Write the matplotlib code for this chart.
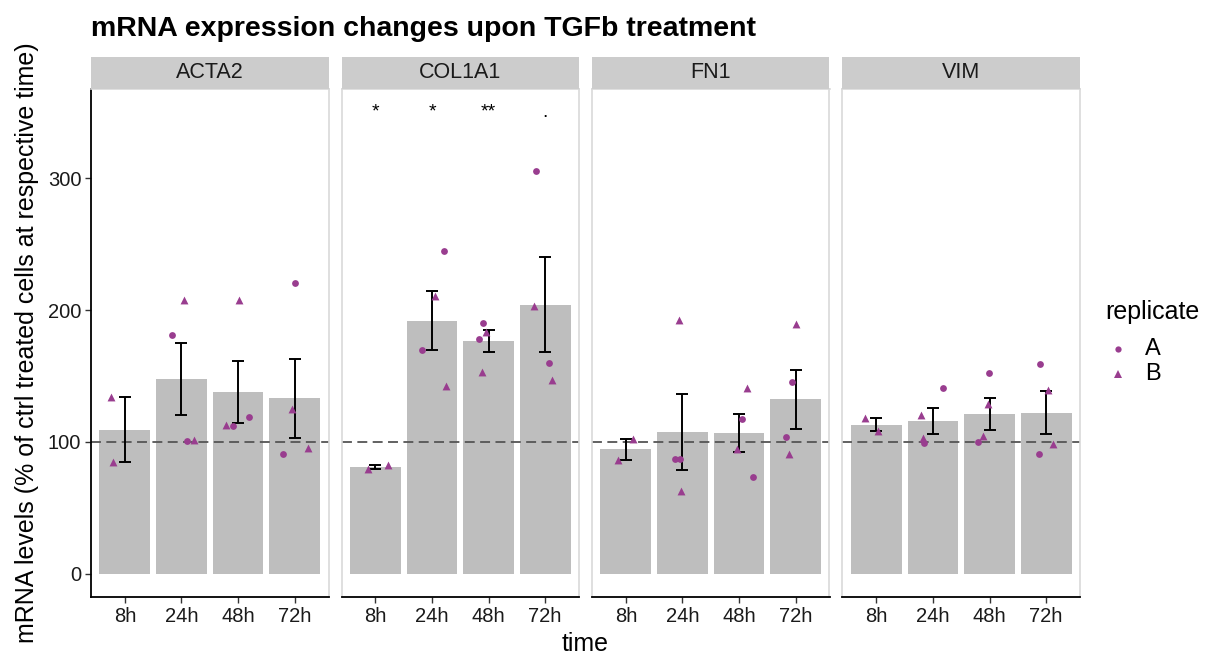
import numpy as np
import matplotlib
matplotlib.use("Agg")
import matplotlib.pyplot as plt
from matplotlib.lines import Line2D
from matplotlib.patches import Rectangle

plt.rcParams["font.family"] = ["Liberation Sans", "DejaVu Sans"]

times = ["8h", "24h", "48h", "72h"]
genes = ["ACTA2", "COL1A1", "FN1", "VIM"]
replicates = ["A", "B"]

# measured values (% of ctrl), one list per time point; 8h only has replicate B
acta2_A = [[], [180.8, 100.8], [112.1, 118.9], [220.7, 91.2]]
acta2_B = [[133.8, 84.6], [207.6, 101.5], [207.6, 112.6], [124.7, 95.2]]
col1a1_A = [[], [244.5, 170.0], [190.4, 178.3], [305.6, 160.1]]
col1a1_B = [[79.5, 82.2], [210.9, 142.4], [183.6, 153.0], [203.3, 147.0]]
fn1_A = [[], [87.4, 87.1], [117.7, 73.5], [145.5, 103.5]]
fn1_B = [[86.4, 102.5], [192.4, 62.9], [140.6, 94.4], [189.6, 91.2]]
vim_A = [[], [141.2, 99.0], [152.0, 100.0], [159.3, 91.2]]
vim_B = [[117.9, 108.3], [120.7, 103.0], [128.8, 104.3], [139.1, 98.5]]

# significance labels for COL1A1
col1a1_sig = ["*", "*", "**", "."]

# horizontal jitter of the points
acta2_jit_A = [[], [-0.16, 0.10], [-0.09, 0.20], [0.00, -0.21]]
acta2_jit_B = [[-0.25, -0.21], [0.04, 0.22], [0.01, -0.22], [-0.05, 0.24]]
col1a1_jit_A = [[], [0.21, -0.17], [-0.09, -0.16], [-0.16, 0.07]]
col1a1_jit_B = [[-0.13, 0.22], [0.05, 0.25], [-0.04, -0.11], [-0.20, 0.13]]
fn1_jit_A = [[], [-0.13, -0.05], [0.05, 0.24], [-0.07, -0.17]]
fn1_jit_B = [[-0.14, 0.12], [-0.07, -0.03], [0.14, -0.03], [0.00, -0.11]]
vim_jit_A = [[], [0.18, -0.16], [-0.01, -0.20], [-0.10, -0.13]]
vim_jit_B = [[-0.21, 0.02], [-0.22, -0.17], [-0.03, -0.12], [0.04, 0.12]]

values = {
    "ACTA2": (acta2_A, acta2_B, acta2_jit_A, acta2_jit_B),
    "COL1A1": (col1a1_A, col1a1_B, col1a1_jit_A, col1a1_jit_B),
    "FN1": (fn1_A, fn1_B, fn1_jit_A, fn1_jit_B),
    "VIM": (vim_A, vim_B, vim_jit_A, vim_jit_B),
}

W, H = 1207, 655
fig = plt.figure(figsize=(W / 100, H / 100), dpi=100)

point_col = "#993D8F"
bar_col = "#BEBEBE"
strip_col = "#CCCCCC"
border_col = "#D9D9D9"
text_col = "#1A1A1A"

ax_left, ax_w, ax_gap = 91, 237.5, 13
ax_bottom, ax_top = 597, 89
strip_h = 32

x = np.arange(1, len(times) + 1)

for i, gene in enumerate(genes):
    left = ax_left + i * (ax_w + ax_gap)
    ax = fig.add_axes([left / W, 1 - ax_bottom / H, ax_w / W, (ax_bottom - ax_top) / H])
    a_vals, b_vals, a_jit, b_jit = values[gene]

    # bar = mean, error bar = standard error over all replicates
    means, ses = [], []
    for t in range(len(times)):
        v = np.array(a_vals[t] + b_vals[t])
        means.append(v.mean())
        ses.append(v.std(ddof=1) / np.sqrt(len(v)))

    ax.bar(x, means, width=0.9, color=bar_col, zorder=1)
    ax.axhline(100, color="#555555", lw=1.3, ls=(0, (5.5, 3)), zorder=2)
    ax.errorbar(x, means, yerr=ses, fmt="none", ecolor="black", elinewidth=1.4,
                capsize=4, capthick=1.4, zorder=3)

    for t in range(len(times)):
        if a_vals[t]:
            ax.scatter(x[t] + np.array(a_jit[t]), a_vals[t], marker="o", s=24,
                       color=point_col, linewidths=0, zorder=4)
        ax.scatter(x[t] + np.array(b_jit[t]), b_vals[t], marker="^", s=32,
                   color=point_col, linewidths=0, zorder=4)

    if gene == "COL1A1":
        for t, lab in enumerate(col1a1_sig):
            ax.text(x[t], 350, lab, ha="center", va="center", fontsize=14)

    ax.set_xlim(0.4, 4.6)
    ax.set_ylim(-17.5, 367.5)
    ax.set_xticks(x)
    ax.set_xticklabels(times, fontsize=14.5, color=text_col)
    ax.tick_params(axis="x", length=4, width=1, color="#333333", pad=3)

    for side in ["top", "right", "left"]:
        ax.spines[side].set_color(border_col)
        ax.spines[side].set_linewidth(1.2)
    ax.spines["bottom"].set_color("black")
    ax.spines["bottom"].set_linewidth(1.3)

    if i == 0:
        ax.set_yticks([0, 100, 200, 300])
        ax.set_yticklabels(["0", "100", "200", "300"], fontsize=14.5, color=text_col)
        ax.tick_params(axis="y", length=4, width=1, color="#333333", pad=3)
        ax.spines["left"].set_color("black")
        ax.spines["left"].set_linewidth(1.3)
    else:
        ax.set_yticks([])

    # facet strip
    sh = strip_h / (ax_bottom - ax_top)
    ax.add_patch(Rectangle((0, 1), 1, sh, transform=ax.transAxes, facecolor=strip_col,
                           edgecolor="none", clip_on=False, zorder=5))
    ax.text(0.5, 1 + sh / 2, gene, transform=ax.transAxes, ha="center", va="center",
            fontsize=15.5, color=text_col, zorder=6)

fig.text(91 / W, 1 - 29 / H, "mRNA expression changes upon TGFb treatment",
         fontsize=20.5, fontweight="bold", ha="left", va="center")
fig.text(585 / W, 1 - 644 / H, "time", fontsize=18, ha="center", va="center")
fig.text(27 / W, 1 - 343 / H, "mRNA levels (% of ctrl treated cells at respective time)",
         fontsize=18, rotation=90, ha="center", va="center")

# legend for replicate shapes
fig.text(1105 / W, 1 - 312 / H, "replicate", fontsize=18, ha="left", va="center")
for k, (rep, mk, ms) in enumerate(zip(replicates, ["o", "^"], [4.5, 5.5])):
    yk = 1 - (349 + 25 * k) / H
    fig.add_artist(Line2D([1118 / W], [yk], marker=mk, ls="none", color=point_col,
                          markersize=ms, markeredgewidth=0, transform=fig.transFigure))
    fig.text(1145 / W, yk, rep, fontsize=17, ha="left", va="center")

fig.savefig("out.png", dpi=100)
